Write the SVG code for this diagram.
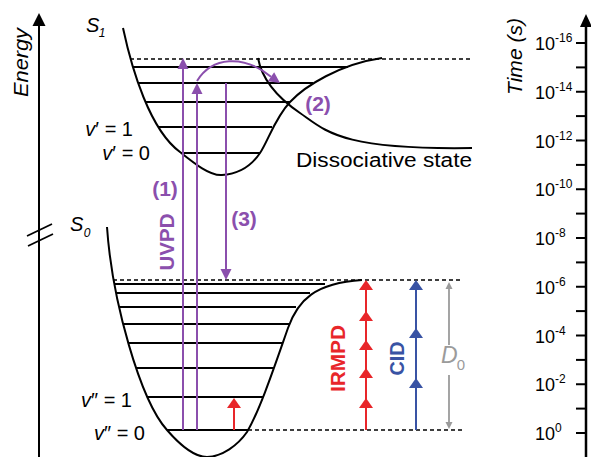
<svg xmlns="http://www.w3.org/2000/svg" xmlns:xlink="http://www.w3.org/1999/xlink" width="591" height="457" viewBox="0 0 591 457">
<style>
text{font-family:"Liberation Sans",Arial,sans-serif;}
.ax{stroke:#000;stroke-width:2;fill:none;}
.crv{stroke:#000;stroke-width:2;fill:none;}
.lvl{stroke:#000;stroke-width:1.8;fill:none;}
.dash{stroke:#000;stroke-width:1.5;stroke-dasharray:4 3;fill:none;}
.pu{stroke:#8B4FAD;stroke-width:2;fill:none;}
.rd{stroke:#E8262A;stroke-width:2;fill:none;}
.bl{stroke:#3953A4;stroke-width:2;fill:none;}
.gy{stroke:#9B9B9B;stroke-width:1.8;fill:none;}
.lab{font-size:20px;fill:#000;}
.it{font-style:italic;}
.tk{font-size:18px;fill:#000;}
.sup{font-size:12px;}
.pl{font-size:21px;font-weight:bold;fill:#8B4FAD;}
</style>
<defs>
<path id="hp" d="M0,0 L5.5,11 L-5.5,11 Z"/>
<path id="hr" d="M0,0 L7,10 L-7,10 Z"/>
<path id="hg" d="M0,0 L3.5,7 L-3.5,7 Z"/>
</defs>

<g id="energy-axis">
<line class="ax" x1="39" y1="457" x2="39" y2="24"/>
<polygon points="39,13 45.5,26 32.5,26" fill="#000"/>
<line x1="27" y1="236" x2="52" y2="224" stroke="#000" stroke-width="1.8"/>
<line x1="28" y1="246" x2="53" y2="234" stroke="#000" stroke-width="1.8"/>
<text class="lab it" transform="translate(28,62.5) rotate(-90)" text-anchor="middle" textLength="69" lengthAdjust="spacingAndGlyphs">Energy</text>
</g>

<g id="time-axis">
<line x1="586" y1="457" x2="586" y2="25" stroke="#000" stroke-width="2.5"/>
<polygon points="586,14 592,27 580,27" fill="#000"/>
<g stroke="#000" stroke-width="2">
<line x1="576" y1="43" x2="586" y2="43"/>
<line x1="576" y1="67.4" x2="586" y2="67.4"/>
<line x1="576" y1="91.75" x2="586" y2="91.75"/>
<line x1="576" y1="116.1" x2="586" y2="116.1"/>
<line x1="576" y1="140.5" x2="586" y2="140.5"/>
<line x1="576" y1="164.9" x2="586" y2="164.9"/>
<line x1="576" y1="189.25" x2="586" y2="189.25"/>
<line x1="576" y1="213.6" x2="586" y2="213.6"/>
<line x1="576" y1="238" x2="586" y2="238"/>
<line x1="576" y1="262.4" x2="586" y2="262.4"/>
<line x1="576" y1="286.75" x2="586" y2="286.75"/>
<line x1="576" y1="311.1" x2="586" y2="311.1"/>
<line x1="576" y1="335.5" x2="586" y2="335.5"/>
<line x1="576" y1="359.9" x2="586" y2="359.9"/>
<line x1="576" y1="384.25" x2="586" y2="384.25"/>
<line x1="576" y1="408.6" x2="586" y2="408.6"/>
<line x1="576" y1="433" x2="586" y2="433"/>
</g>
<text class="tk" x="535" y="50">10<tspan class="sup" dy="-8">-16</tspan></text>
<text class="tk" x="535" y="98.75">10<tspan class="sup" dy="-8">-14</tspan></text>
<text class="tk" x="535" y="147.5">10<tspan class="sup" dy="-8">-12</tspan></text>
<text class="tk" x="535" y="196.25">10<tspan class="sup" dy="-8">-10</tspan></text>
<text class="tk" x="535" y="245">10<tspan class="sup" dy="-8">-8</tspan></text>
<text class="tk" x="535" y="293.75">10<tspan class="sup" dy="-8">-6</tspan></text>
<text class="tk" x="535" y="342.5">10<tspan class="sup" dy="-8">-4</tspan></text>
<text class="tk" x="535" y="391.25">10<tspan class="sup" dy="-8">-2</tspan></text>
<text class="tk" x="535" y="440">10<tspan class="sup" dy="-8">0</tspan></text>
<text class="lab it" transform="translate(522,56.5) rotate(-90)" text-anchor="middle" textLength="77" lengthAdjust="spacingAndGlyphs">Time (s)</text>
</g>

<g id="S1-state">
<path class="crv" d="M123,28 C132,70 150,130 180,152 C195,164 210,176 222,175 C240,174 252,165 260,153 C268,141 275,118 290,102 C305,86 340,64 382,58"/>
<line class="dash" x1="130" y1="59" x2="472" y2="59"/>
<line class="lvl" x1="133" y1="67" x2="348" y2="67"/>
<line class="lvl" x1="138" y1="83" x2="313" y2="83"/>
<line class="lvl" x1="145.5" y1="102" x2="290" y2="102"/>
<line class="lvl" x1="158.5" y1="127" x2="272" y2="127"/>
<line class="lvl" x1="181" y1="153" x2="260" y2="153"/>
<text class="lab it" x="86" y="32">S<tspan font-size="12" dx="-0.5" dy="5">1</tspan></text>
<text class="lab" x="133" y="136" text-anchor="end" font-size="19"><tspan class="it">v</tspan>′ = 1</text>
<text class="lab" x="150" y="160" text-anchor="end" font-size="19"><tspan class="it">v</tspan>′ = 0</text>
</g>

<g id="dissociative-state">
<path class="crv" d="M258,58 C262,80 278,98 300,113 C326,131 340,150 472,148"/>
<text class="lab" x="296" y="167" font-size="22" textLength="176" lengthAdjust="spacingAndGlyphs">Dissociative state</text>
</g>

<g id="S0-state">
<path class="crv" d="M107,227 C112,300 140,400 167,430 C180,445 195,457 207,457 C222,457 238,445 247,432 C260,410 275,365 288,328 C298,300 315,283 362,280"/>
<line class="dash" x1="113" y1="280" x2="462" y2="280"/>
<line class="dash" x1="248" y1="430" x2="462" y2="430"/>
<line class="lvl" x1="114.5" y1="284" x2="325" y2="284"/>
<line class="lvl" x1="116" y1="293" x2="310" y2="293"/>
<line class="lvl" x1="119" y1="307" x2="296" y2="307"/>
<line class="lvl" x1="123" y1="324" x2="289" y2="324"/>
<line class="lvl" x1="128.5" y1="343" x2="282" y2="343"/>
<line class="lvl" x1="136" y1="368" x2="274" y2="368"/>
<line class="lvl" x1="147" y1="397" x2="263" y2="397"/>
<line class="lvl" x1="167" y1="430" x2="248" y2="430"/>
<text class="lab it" x="70" y="231">S<tspan font-size="12" dx="0.5" dy="6">0</tspan></text>
<text class="lab" x="132" y="407" text-anchor="end" font-size="19"><tspan class="it">v</tspan>″ = 1</text>
<text class="lab" x="145" y="440" text-anchor="end" font-size="19"><tspan class="it">v</tspan>″ = 0</text>
</g>

<g id="connectors">
<g id="uvpd" fill="#8B4FAD">
<line class="pu" x1="183" y1="430" x2="183" y2="68"/>
<use xlink:href="#hp" href="#hp" x="183" y="58"/>
<line class="pu" x1="197" y1="430" x2="197" y2="93"/>
<use xlink:href="#hp" href="#hp" x="197" y="83"/>
<line class="pu" x1="226" y1="83" x2="226" y2="270"/>
<use xlink:href="#hp" href="#hp" transform="translate(226,280) rotate(180)"/>
<path class="pu" d="M197,81 C212,57 243,54 271,76.7"/>
<use xlink:href="#hp" href="#hp" transform="translate(280,83) rotate(125)"/>
</g>
<g id="irmpd" fill="#E8262A">
<line class="rd" x1="366" y1="430" x2="366" y2="288"/>
<use xlink:href="#hr" href="#hr" x="366" y="280"/>
<use xlink:href="#hr" href="#hr" x="366" y="311"/>
<use xlink:href="#hr" href="#hr" x="366" y="340"/>
<use xlink:href="#hr" href="#hr" x="366" y="368"/>
<use xlink:href="#hr" href="#hr" x="366" y="398"/>
<line class="rd" x1="234" y1="430" x2="234" y2="406"/>
<use xlink:href="#hr" href="#hr" x="234" y="398"/>
</g>
<g id="cid" fill="#3953A4">
<line class="bl" x1="416" y1="430" x2="416" y2="288"/>
<use xlink:href="#hr" href="#hr" x="416" y="280"/>
<use xlink:href="#hr" href="#hr" x="416" y="328"/>
<use xlink:href="#hr" href="#hr" x="416" y="378"/>
</g>
<g id="d0" fill="#9B9B9B">
<line class="gy" x1="449" y1="287" x2="449" y2="345"/>
<line class="gy" x1="449" y1="375" x2="449" y2="424"/>
<use xlink:href="#hg" href="#hg" x="449" y="282"/>
<use xlink:href="#hg" href="#hg" transform="translate(449,429) rotate(180)"/>
</g>
</g>

<g id="labels">
<text class="pl" x="165" y="196" text-anchor="middle">(1)</text>
<text class="pl" x="318" y="111" text-anchor="middle">(2)</text>
<text class="pl" x="244" y="226" text-anchor="middle">(3)</text>
<text class="pl" transform="translate(174,242) rotate(-90)" text-anchor="middle" textLength="57" lengthAdjust="spacingAndGlyphs">UVPD</text>
<text class="pl" transform="translate(345,358.5) rotate(-90)" text-anchor="middle" style="fill:#E8262A" textLength="67" lengthAdjust="spacingAndGlyphs">IRMPD</text>
<text class="pl" transform="translate(404,358.5) rotate(-90)" text-anchor="middle" style="fill:#3953A4" textLength="34" lengthAdjust="spacingAndGlyphs">CID</text>
<text class="it" x="441" y="363" font-size="23" fill="#9B9B9B">D<tspan font-size="15" font-style="normal" dx="-1" dy="7">0</tspan></text>
</g>
</svg>
